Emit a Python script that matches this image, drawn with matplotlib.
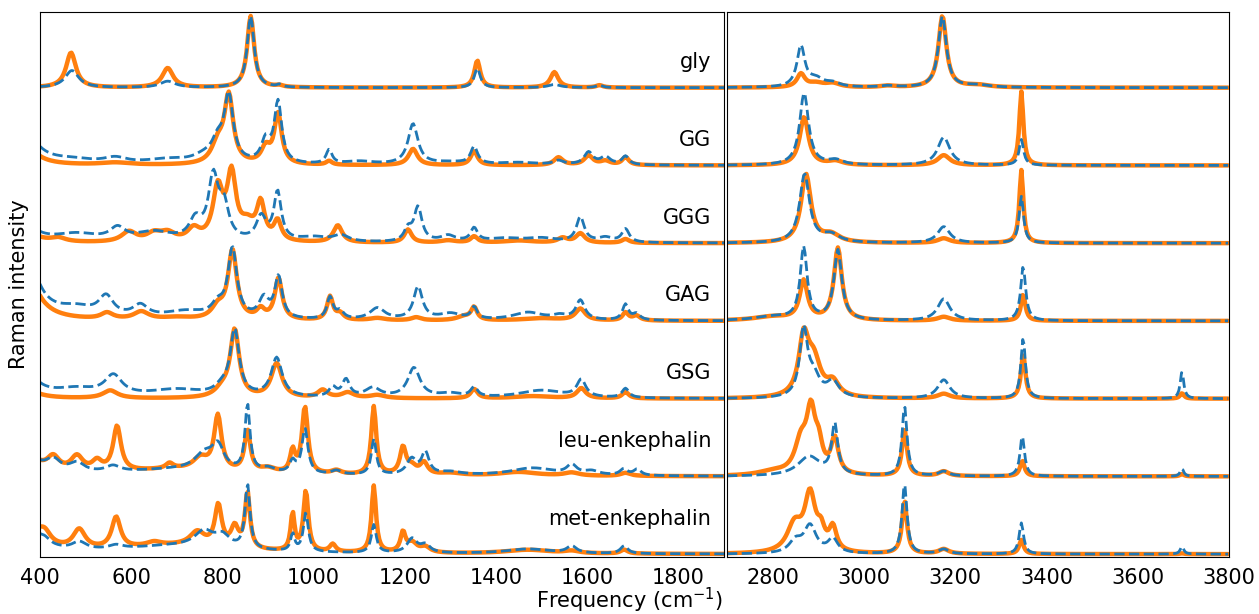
import numpy as np
import matplotlib
matplotlib.use("Agg")
import matplotlib.pyplot as plt

# Peak tables: (position cm-1, height, FWHM cm-1); spectra are Lorentzian-broadened sticks.
gly_solid = [(468, 0.45, 20), (680, 0.25, 22), (862, 0.92, 14), (925, 0.02, 15),
             (1359, 0.35, 12), (1528, 0.20, 16), (1627, 0.03, 14),
             (2862, 0.17, 16), (2895, 0.05, 40), (2932, 0.05, 30), (3052, 0.02, 30),
             (3172, 0.92, 16), (3250, 0.03, 60)]
gly_dashed = [(470, 0.22, 28), (680, 0.08, 40), (862, 0.92, 14), (925, 0.03, 10),
              (1359, 0.25, 12), (1528, 0.04, 25), (1627, 0.03, 14),
              (2862, 0.52, 16), (2895, 0.10, 40), (2932, 0.05, 30), (3052, 0.02, 30),
              (3172, 0.92, 16), (3250, 0.03, 60)]

gg_solid = [(360, 0.33, 60), (565, 0.03, 80), (790, 0.25, 25), (814, 0.86, 18), (895, 0.20, 18),
            (922, 0.64, 15), (1034, 0.05, 12), (1218, 0.21, 18), (1352, 0.18, 14), (1537, 0.10, 18),
            (1603, 0.12, 18), (1640, 0.05, 20), (1684, 0.10, 14),
            (2869, 0.62, 18), (2938, 0.05, 30), (3175, 0.13, 25), (3345, 0.95, 8)]
gg_dashed = [(360, 0.5, 70), (470, 0.05, 120), (565, 0.07, 60), (680, 0.06, 120), (760, 0.08, 60),
             (790, 0.25, 25), (814, 0.83, 18), (895, 0.28, 18), (922, 0.78, 15), (1034, 0.18, 12),
             (1100, 0.04, 80), (1218, 0.52, 20), (1300, 0.03, 100), (1352, 0.22, 14), (1450, 0.03, 100),
             (1537, 0.05, 20), (1603, 0.16, 18), (1640, 0.10, 20), (1684, 0.11, 14),
             (2869, 0.93, 18), (2938, 0.06, 30), (3175, 0.36, 25), (3345, 0.33, 9)]

ggg_solid = [(360, 0.2, 60), (440, 0.05, 30), (595, 0.13, 30), (650, 0.10, 40), (680, 0.10, 30),
             (737, 0.15, 25), (790, 0.66, 20), (820, 0.82, 18), (855, 0.20, 30), (884, 0.46, 16),
             (921, 0.25, 15), (1053, 0.22, 18), (1207, 0.17, 15), (1295, 0.03, 40), (1352, 0.08, 14),
             (1450, 0.03, 80), (1546, 0.06, 20), (1585, 0.12, 18), (1684, 0.05, 15),
             (2873, 0.88, 20), (2928, 0.10, 35), (3175, 0.06, 25), (3345, 0.94, 8)]
ggg_dashed = [(360, 0.3, 60), (480, 0.10, 120), (570, 0.15, 40), (650, 0.12, 100), (741, 0.25, 25),
              (780, 0.78, 20), (803, 0.42, 20), (885, 0.30, 20), (921, 0.62, 15), (1000, 0.06, 80),
              (1060, 0.08, 40), (1207, 0.15, 15), (1229, 0.44, 16), (1295, 0.08, 30), (1352, 0.17, 14),
              (1420, 0.05, 100), (1500, 0.05, 80), (1585, 0.32, 16), (1640, 0.06, 30), (1684, 0.17, 15),
              (2870, 0.88, 20), (2928, 0.10, 35), (3175, 0.21, 25), (3345, 0.60, 9)]

gag_solid = [(360, 0.9, 60), (547, 0.08, 25), (622, 0.10, 40), (700, 0.03, 80), (790, 0.15, 25),
             (822, 0.88, 18), (884, 0.12, 16), (923, 0.53, 15), (1036, 0.30, 12), (1058, 0.08, 15),
             (1140, 0.03, 40), (1225, 0.04, 20), (1330, 0.05, 30), (1352, 0.16, 12), (1500, 0.03, 100),
             (1585, 0.15, 20), (1684, 0.10, 12), (1708, 0.06, 15),
             (2800, 0.05, 100), (2868, 0.50, 16), (2943, 0.93, 16), (3175, 0.05, 25), (3349, 0.34, 9)]
gag_dashed = [(360, 1.2, 60), (480, 0.12, 100), (545, 0.25, 30), (620, 0.15, 40), (720, 0.10, 120),
              (790, 0.15, 25), (822, 0.88, 18), (891, 0.25, 20), (923, 0.53, 15), (1036, 0.28, 12),
              (1058, 0.10, 15), (1140, 0.15, 40), (1229, 0.42, 18), (1300, 0.08, 60), (1352, 0.15, 12),
              (1470, 0.10, 80), (1540, 0.05, 40), (1585, 0.25, 18), (1684, 0.20, 12), (1708, 0.08, 15),
              (2800, 0.05, 100), (2868, 0.93, 14), (2943, 0.90, 16), (3175, 0.28, 25), (3349, 0.70, 10)]

gsg_solid = [(360, 0.17, 60), (554, 0.10, 30), (800, 0.10, 30), (827, 0.86, 18), (919, 0.44, 22),
             (1020, 0.10, 20), (1075, 0.07, 25), (1140, 0.04, 40), (1352, 0.12, 14), (1480, 0.03, 100),
             (1587, 0.13, 18), (1684, 0.08, 14),
             (2868, 0.72, 20), (2890, 0.45, 28), (2932, 0.18, 25), (3175, 0.06, 25), (3349, 0.57, 9),
             (3697, 0.07, 8)]
gsg_dashed = [(360, 0.45, 60), (480, 0.10, 120), (561, 0.25, 35), (700, 0.10, 150), (800, 0.10, 30),
              (827, 0.83, 18), (919, 0.50, 22), (1042, 0.12, 15), (1071, 0.22, 15), (1130, 0.12, 40),
              (1220, 0.38, 25), (1300, 0.05, 60), (1352, 0.12, 14), (1500, 0.10, 120), (1587, 0.22, 18),
              (1684, 0.12, 14),
              (2868, 0.85, 16), (2890, 0.25, 25), (2932, 0.20, 25), (3175, 0.24, 25), (3349, 0.78, 9),
              (3697, 0.35, 7)]

leu_solid = [(360, 0.4, 60), (429, 0.18, 25), (481, 0.20, 25), (525, 0.13, 20), (569, 0.58, 16),
             (700, 0.08, 300), (684, 0.07, 15), (752, 0.15, 30), (790, 0.70, 15), (855, 0.53, 12),
             (900, 0.06, 40), (954, 0.28, 10), (981, 0.86, 12), (1050, 0.05, 20), (1132, 0.88, 10),
             (1196, 0.34, 12), (1215, 0.10, 20), (1242, 0.15, 15), (1300, 0.03, 60), (1450, 0.05, 100),
             (1566, 0.04, 30), (1684, 0.04, 20),
             (2800, 0.05, 80), (2862, 0.40, 25), (2884, 0.75, 18), (2901, 0.30, 15), (2936, 0.45, 15),
             (3089, 0.60, 10), (3175, 0.06, 20), (3347, 0.20, 9), (3697, 0.03, 8)]
leu_dashed = [(360, 0.4, 60), (429, 0.15, 30), (481, 0.12, 40), (560, 0.08, 40), (700, 0.08, 300),
              (760, 0.20, 50), (790, 0.30, 25), (855, 0.86, 10), (900, 0.06, 40), (954, 0.15, 12),
              (981, 0.58, 12), (1050, 0.05, 20), (1132, 0.46, 10), (1215, 0.20, 20), (1245, 0.28, 15),
              (1300, 0.04, 60), (1480, 0.10, 120), (1566, 0.12, 20), (1610, 0.05, 40), (1680, 0.08, 15),
              (1710, 0.08, 15),
              (2880, 0.25, 60), (2936, 0.65, 12), (3089, 0.90, 10), (3175, 0.06, 20), (3347, 0.52, 9),
              (3697, 0.10, 7)]

met_solid = [(360, 0.6, 60), (410, 0.15, 25), (486, 0.25, 25), (567, 0.40, 18), (650, 0.05, 30),
             (700, 0.10, 300), (745, 0.18, 30), (791, 0.53, 14), (827, 0.26, 15), (855, 0.72, 10),
             (954, 0.48, 8), (983, 0.78, 10), (1042, 0.10, 12), (1132, 0.86, 9), (1196, 0.25, 10),
             (1216, 0.12, 20), (1245, 0.07, 20), (1470, 0.05, 120), (1566, 0.03, 30), (1681, 0.05, 15),
             (2848, 0.35, 30), (2882, 0.72, 22), (2906, 0.22, 15), (2932, 0.30, 15),
             (3089, 0.68, 10), (3175, 0.06, 20), (3345, 0.18, 9), (3697, 0.01, 8)]
met_dashed = [(360, 0.5, 60), (410, 0.08, 25), (486, 0.10, 30), (567, 0.05, 30), (700, 0.10, 300),
              (760, 0.20, 50), (800, 0.15, 30), (855, 0.83, 10), (954, 0.22, 8), (983, 0.50, 10),
              (1132, 0.36, 10), (1216, 0.18, 20), (1245, 0.10, 20), (1470, 0.06, 120), (1566, 0.09, 20),
              (1681, 0.10, 15),
              (2850, 0.15, 25), (2882, 0.35, 25), (2932, 0.18, 20), (3089, 0.90, 10), (3175, 0.06, 20),
              (3345, 0.40, 9), (3697, 0.10, 7)]

names = ["gly", "GG", "GGG", "GAG", "GSG", "leu-enkephalin", "met-enkephalin"]
solid_sets = [gly_solid, gg_solid, ggg_solid, gag_solid, gsg_solid, leu_solid, met_solid]
dashed_sets = [gly_dashed, gg_dashed, ggg_dashed, gag_dashed, gsg_dashed, leu_dashed, met_dashed]

left_ticks = [400, 600, 800, 1000, 1200, 1400, 1600, 1800]
right_ticks = [2800, 3000, 3200, 3400, 3600, 3800]

# extra instrumental broadening applied to the sharp bands
SHARP_LIMIT = 40
SHARP_SCALE = 1.3


def broaden(peaks, x):
    y = np.zeros_like(x, dtype=float)
    for pos, h, w in peaks:
        if w < SHARP_LIMIT:
            w = w * SHARP_SCALE
        g = w / 2.0
        y += h * g ** 2 / ((x - pos) ** 2 + g ** 2)
    return y


fig = plt.figure(figsize=(12.59, 6.14), dpi=100)
ax1 = fig.add_axes([40 / 1259, 57.5 / 614, 684 / 1259, 545 / 614])
ax2 = fig.add_axes([727 / 1259, 57.5 / 614, 502 / 1259, 545 / 614])

xl = np.arange(400, 1901, 3.0)
xr = np.arange(2700, 3801, 3.0)

n = len(names)
for i, (name, sp, dp) in enumerate(zip(names, solid_sets, dashed_sets)):
    off = n - 1 - i
    for ax, x in ((ax1, xl), (ax2, xr)):
        ax.plot(x, broaden(sp, x) + off, color="#ff7f0e", lw=3.2, solid_capstyle="round")
        ax.plot(x, broaden(dp, x) + off, color="#1f77b4", lw=2.0, ls="--")
    dy = 0.45 if "enkephalin" in name else 0.33
    ax1.text(1872, off + dy, name, ha="right", va="center", fontsize=15)

ax1.set_xlim(400, 1900)
ax2.set_xlim(2700, 3800)
for ax in (ax1, ax2):
    ax.set_ylim(-0.03, 6.98)
    ax.set_yticks([])
    ax.tick_params(axis="x", labelsize=15, length=0, pad=8)
ax1.set_xticks(left_ticks)
ax2.set_xticks(right_ticks)
ax1.set_ylabel("Raman intensity", fontsize=15, labelpad=8)
fig.text(0.5, 0.022, "Frequency (cm$^{-1}$)", ha="center", va="center", fontsize=15)

fig.savefig("out.png", dpi=100)
